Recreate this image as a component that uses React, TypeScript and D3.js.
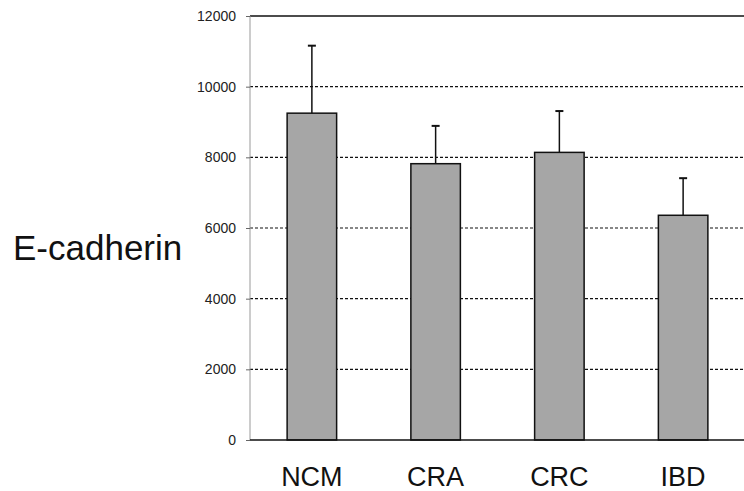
import { useEffect, useRef } from 'react';
import * as d3 from 'd3';

const categories = ['NCM', 'CRA', 'CRC', 'IBD'];
const means = [9250, 7820, 8140, 6360];
const errors = [1910, 1070, 1170, 1050];
const yTicks = [0, 2000, 4000, 6000, 8000, 10000, 12000];
const yLabel = 'E-cadherin';

export default function App() {
  const svgRef = useRef<SVGSVGElement>(null);
  const width = 744;
  const height = 491;

  useEffect(() => {
    if (!svgRef.current) return;
    const svg = d3.select(svgRef.current);
    svg.selectAll('*').remove();

    const margin = { top: 16, right: 0, bottom: 51, left: 250 };
    const w = 495;
    const h = height - margin.top - margin.bottom;
    const font = 'Liberation Sans, Arial, sans-serif';

    const g = svg.append('g').attr('transform', `translate(${margin.left},${margin.top})`);

    const x = d3.scaleBand().domain(categories).range([0, w]).paddingInner(0.6).paddingOuter(0.3);
    const y = d3.scaleLinear().domain([0, 12000]).range([h, 0]);

    // dashed grid lines
    g.append('g').selectAll('line')
      .data(yTicks.filter(t => t > 0 && t < 12000)).enter().append('line')
      .attr('x1', 0).attr('x2', w)
      .attr('y1', d => y(d)).attr('y2', d => y(d))
      .attr('stroke', '#111').attr('stroke-width', 1.2).attr('stroke-dasharray', '3,2');

    // top border
    g.append('line').attr('x1', 0).attr('x2', w).attr('y1', y(12000)).attr('y2', y(12000))
      .attr('stroke', '#111').attr('stroke-width', 1.5);

    // error bars
    const eb = g.append('g');
    categories.forEach((c, i) => {
      const cx = (x(c) as number) + x.bandwidth() / 2;
      eb.append('line').attr('x1', cx).attr('x2', cx)
        .attr('y1', y(means[i])).attr('y2', y(means[i] + errors[i]))
        .attr('stroke', '#111').attr('stroke-width', 1.5);
      eb.append('line').attr('x1', cx - 4).attr('x2', cx + 4)
        .attr('y1', y(means[i] + errors[i])).attr('y2', y(means[i] + errors[i]))
        .attr('stroke', '#111').attr('stroke-width', 2);
    });

    // bars
    g.append('g').selectAll('rect')
      .data(categories).enter().append('rect')
      .attr('x', d => x(d) as number)
      .attr('width', x.bandwidth())
      .attr('y', (_, i) => y(means[i]))
      .attr('height', (_, i) => h - y(means[i]))
      .attr('fill', '#a6a6a6').attr('stroke', '#111').attr('stroke-width', 1.5);

    // y axis
    g.append('g')
      .call(d3.axisLeft(y).tickValues(yTicks).tickSize(4).tickPadding(10).tickFormat(d => String(d)))
      .call(a => a.select('.domain').attr('stroke', '#999').attr('d', `M0,0V${h}`))
      .call(a => a.selectAll('.tick line').attr('stroke', '#666'))
      .call(a => a.selectAll('text').attr('fill', '#222').attr('font-size', '14px')
        .attr('font-family', font));

    // x axis baseline
    g.append('line').attr('x1', 0).attr('x2', w).attr('y1', h).attr('y2', h)
      .attr('stroke', '#111').attr('stroke-width', 1.5);

    // category labels
    g.append('g').selectAll('text')
      .data(categories).enter().append('text')
      .attr('x', d => (x(d) as number) + x.bandwidth() / 2)
      .attr('y', h + 46)
      .attr('text-anchor', 'middle')
      .attr('font-size', '27px')
      .attr('font-family', font)
      .attr('fill', '#111')
      .text(d => d);

    svg.append('text')
      .attr('x', 13).attr('y', 260)
      .attr('font-size', '35px')
      .attr('font-family', font)
      .attr('fill', '#111')
      .text(yLabel);
  }, []);

  return (
    <svg ref={svgRef} width={width} height={height}
      style={{ position: 'absolute', left: 0, top: 0, background: '#fff' }} />
  );
}
